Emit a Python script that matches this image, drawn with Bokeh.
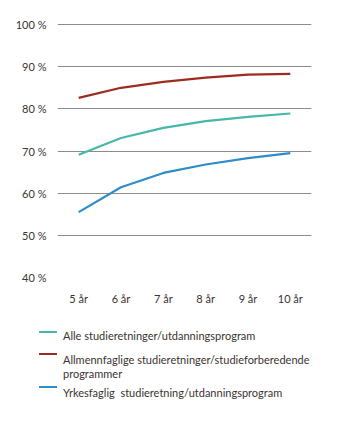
from bokeh.plotting import figure
from bokeh.layouts import column
from bokeh.models import FixedTicker, Div
from bokeh.embed import file_html
from bokeh.resources import INLINE

years = [5, 6, 7, 8, 9, 10]
x_labels = {5: "5 år", 6: "6 år", 7: "7 år", 8: "8 år", 9: "9 år", 10: "10 år"}
alle = [69.1, 73.1, 75.5, 77.1, 78.1, 78.9]
allmenn = [82.6, 85.0, 86.4, 87.4, 88.1, 88.3]
yrkes = [55.5, 61.4, 64.8, 66.8, 68.3, 69.5]
y_ticks = [40, 50, 60, 70, 80, 90, 100]
y_labels = {t: f"{t} %" for t in y_ticks}
series_names = [["Alle studieretninger/utdanningsprogram"],
                ["Allmennfaglige studieretninger/studieforberedende", "programmer"],
                ["Yrkesfaglig&nbsp; studieretning/utdanningsprogram"]]
colors = ["#45b8a9", "#9e2b20", "#2f8cc6"]

FONT = "Lato"
TXT = "#3a3330"

p = figure(width=345, height=310, x_range=(4.5, 10.5), y_range=(40, 100.25),
           output_backend="svg", toolbar_location=None,
           min_border_left=57, min_border_right=34, min_border_top=23, min_border_bottom=33)
p.outline_line_color = None
p.background_fill_color = "white"
p.xgrid.grid_line_color = None
p.ygrid.grid_line_color = "#8c8c8c"
p.ygrid.grid_line_width = 1
p.yaxis.ticker = FixedTicker(ticks=y_ticks)
p.xaxis.ticker = FixedTicker(ticks=years)
p.yaxis.major_label_overrides = y_labels
p.xaxis.major_label_overrides = x_labels
for ax in (p.xaxis, p.yaxis):
    ax.axis_line_color = None
    ax.major_tick_line_color = None
    ax.minor_tick_line_color = None
    ax.major_label_text_font = FONT
    ax.major_label_text_font_size = "11px"
    ax.major_label_text_color = TXT
p.yaxis.major_label_standoff = 5
p.xaxis.major_label_standoff = 8

for vals, c in zip([alle, allmenn, yrkes], colors):
    p.line(years, vals, line_color=c, line_width=2.2)

# legend (HTML)
swatch_top = [21, 43, 76]
text_top = [19, 43, 76]
parts = []
for st, tt, lines, c in zip(swatch_top, text_top, series_names, colors):
    parts.append(f'<div style="position:absolute;left:39px;top:{st}px;width:18px;height:2px;background:{c};"></div>')
    parts.append(f'<div style="position:absolute;left:63px;top:{tt}px;line-height:13.5px;white-space:nowrap;">'
                 + "<br>".join(lines) + '</div>')
html = (f'<div style="position:relative;width:345px;height:115px;font-family:{FONT};'
        f'font-size:11px;color:{TXT};">' + "".join(parts) + '</div>')
lg = Div(text=html, width=345, height=115, margin=(0, 0, 0, 0))

layout = column(p, lg, spacing=0)
open("out.html", "w").write(file_html(layout, INLINE))
